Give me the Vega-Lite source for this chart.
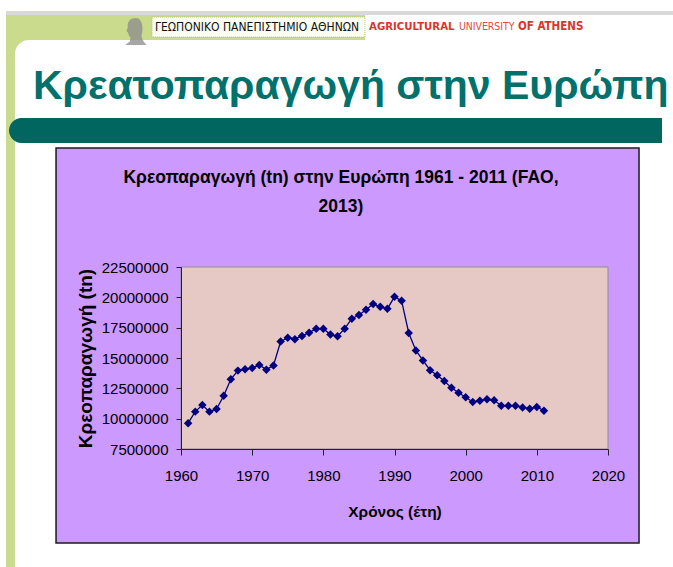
{
  "$schema": "https://vega.github.io/schema/vega-lite/v6.json",
  "width": 427,
  "height": 182,
  "autosize": {"type": "none"},
  "padding": {"left": 181, "top": 267, "right": 65, "bottom": 118},
  "background": "white",
  "config": {"view": {"stroke": null}, "font": "Liberation Sans"},
  "resolve": {"axis": {"x": "independent", "y": "independent"}},
  "data": {"values": [
    {"year": 1961, "value": 9630000}, {"year": 1962, "value": 10580000}, {"year": 1963, "value": 11120000},
    {"year": 1964, "value": 10580000}, {"year": 1965, "value": 10800000}, {"year": 1966, "value": 11890000},
    {"year": 1967, "value": 13250000}, {"year": 1968, "value": 13960000}, {"year": 1969, "value": 14070000},
    {"year": 1970, "value": 14180000}, {"year": 1971, "value": 14420000}, {"year": 1972, "value": 14040000},
    {"year": 1973, "value": 14390000}, {"year": 1974, "value": 16360000}, {"year": 1975, "value": 16660000},
    {"year": 1976, "value": 16550000}, {"year": 1977, "value": 16820000}, {"year": 1978, "value": 17090000},
    {"year": 1979, "value": 17420000}, {"year": 1980, "value": 17420000}, {"year": 1981, "value": 16930000},
    {"year": 1982, "value": 16790000}, {"year": 1983, "value": 17420000}, {"year": 1984, "value": 18240000},
    {"year": 1985, "value": 18540000}, {"year": 1986, "value": 18970000}, {"year": 1987, "value": 19460000},
    {"year": 1988, "value": 19220000}, {"year": 1989, "value": 19050000}, {"year": 1990, "value": 20050000},
    {"year": 1991, "value": 19710000}, {"year": 1992, "value": 17060000}, {"year": 1993, "value": 15620000},
    {"year": 1994, "value": 14800000}, {"year": 1995, "value": 13990000}, {"year": 1996, "value": 13580000},
    {"year": 1997, "value": 13110000}, {"year": 1998, "value": 12540000}, {"year": 1999, "value": 12130000},
    {"year": 2000, "value": 11760000}, {"year": 2001, "value": 11370000}, {"year": 2002, "value": 11480000},
    {"year": 2003, "value": 11610000}, {"year": 2004, "value": 11510000}, {"year": 2005, "value": 11070000},
    {"year": 2006, "value": 11070000}, {"year": 2007, "value": 11070000}, {"year": 2008, "value": 10930000},
    {"year": 2009, "value": 10820000}, {"year": 2010, "value": 10960000}, {"year": 2011, "value": 10660000}
  ]},
  "layer": [
    {
      "data": {"values": [{}]},
      "mark": {"type": "rect", "color": "#CBDB8E"},
      "encoding": {
        "x": {"datum": 1935.41, "type": "quantitative", "scale": {"domain": [1960, 2020], "nice": false, "zero": false}, "axis": null},
        "x2": {"datum": 1985.85},
        "y": {"datum": 43269238, "type": "quantitative", "scale": {"domain": [7500000, 22500000], "nice": false, "zero": false}, "axis": null},
        "y2": {"datum": 39560446}
      }
    },
    {
      "data": {"values": [{}]},
      "mark": {"type": "rect", "color": "#CBDB8E"},
      "encoding": {
        "x": {"datum": 1935.41, "type": "quantitative", "scale": {"domain": [1960, 2020], "nice": false, "zero": false}, "axis": null},
        "x2": {"datum": 1936.67},
        "y": {"datum": 43269238, "type": "quantitative", "scale": {"domain": [7500000, 22500000], "nice": false, "zero": false}, "axis": null},
        "y2": {"datum": -2225277}
      }
    },
    {
      "data": {"values": [{}]},
      "mark": {"type": "rect", "color": "white", "cornerRadius": 14},
      "encoding": {
        "x": {"datum": 1936.67, "type": "quantitative", "scale": {"domain": [1960, 2020], "nice": false, "zero": false}, "axis": null},
        "x2": {"datum": 2032},
        "y": {"datum": 41208798, "type": "quantitative", "scale": {"domain": [7500000, 22500000], "nice": false, "zero": false}, "axis": null},
        "y2": {"datum": -6593410}
      }
    },
    {
      "data": {"values": [{}]},
      "mark": {"type": "rect", "color": "#D9D9D9"},
      "encoding": {
        "x": {"datum": 1935.41, "type": "quantitative", "scale": {"domain": [1960, 2020], "nice": false, "zero": false}, "axis": null},
        "x2": {"datum": 2029.13},
        "y": {"datum": 43598909, "type": "quantitative", "scale": {"domain": [7500000, 22500000], "nice": false, "zero": false}, "axis": null},
        "y2": {"datum": 43269238}
      }
    },
    {
      "data": {"values": [{}]},
      "mark": {"type": "point", "shape": "M0.1,-1 C-0.35,-1 -0.55,-0.7 -0.5,-0.3 C-0.55,-0.15 -0.65,0 -0.5,0.05 C-0.45,0.2 -0.4,0.35 -0.3,0.45 L-0.35,0.75 L-0.7,1 L0.9,1 C0.7,0.8 0.55,0.6 0.5,0.3 C0.65,0 0.6,-0.6 0.45,-0.8 C0.35,-0.95 0.25,-1 0.1,-1 Z", "size": 729, "filled": true, "color": "#8A8A8A", "opacity": 0.75},
      "encoding": {
        "x": {"datum": 1953.47, "type": "quantitative", "scale": {"domain": [1960, 2020], "nice": false, "zero": false}, "axis": null},
        "y": {"datum": 41909348, "type": "quantitative", "scale": {"domain": [7500000, 22500000], "nice": false, "zero": false}, "axis": null}
      }
    },
    {
      "data": {"values": [{}]},
      "mark": {"type": "rect", "fill": "#FBFCF2", "stroke": "#B3C96C", "strokeWidth": 1, "strokeDash": [1, 1]},
      "encoding": {
        "x": {"datum": 1955.93, "type": "quantitative", "scale": {"domain": [1960, 2020], "nice": false, "zero": false}, "axis": null},
        "x2": {"datum": 1985.85},
        "y": {"datum": 43104403, "type": "quantitative", "scale": {"domain": [7500000, 22500000], "nice": false, "zero": false}, "axis": null},
        "y2": {"datum": 41456051}
      }
    },
    {
      "data": {"values": [{}]},
      "mark": {"type": "text", "text": "ΓΕΩΠΟΝΙΚΟ ΠΑΝΕΠΙΣΤΗΜΙΟ ΑΘΗΝΩΝ", "font": "DejaVu Sans Condensed", "fontSize": 12, "color": "#111111", "align": "left", "baseline": "middle"},
      "encoding": {
        "x": {"datum": 1956.35, "type": "quantitative", "scale": {"domain": [1960, 2020], "nice": false, "zero": false}, "axis": null},
        "y": {"datum": 42280227, "type": "quantitative", "scale": {"domain": [7500000, 22500000], "nice": false, "zero": false}, "axis": null}
      }
    },
    {
      "data": {"values": [{}]},
      "mark": {"type": "text", "text": "AGRICULTURAL", "font": "DejaVu Sans Condensed", "fontSize": 11.3, "fontWeight": "bold", "color": "#D9362B", "align": "left", "baseline": "middle"},
      "encoding": {
        "x": {"datum": 1986.42, "type": "quantitative", "scale": {"domain": [1960, 2020], "nice": false, "zero": false}, "axis": null},
        "y": {"datum": 42280227, "type": "quantitative", "scale": {"domain": [7500000, 22500000], "nice": false, "zero": false}, "axis": null}
      }
    },
    {
      "data": {"values": [{}]},
      "mark": {"type": "text", "text": "UNIVERSITY", "font": "DejaVu Sans Condensed", "fontSize": 10.4, "color": "#DE4A3C", "align": "left", "baseline": "middle"},
      "encoding": {
        "x": {"datum": 1999.06, "type": "quantitative", "scale": {"domain": [1960, 2020], "nice": false, "zero": false}, "axis": null},
        "y": {"datum": 42280227, "type": "quantitative", "scale": {"domain": [7500000, 22500000], "nice": false, "zero": false}, "axis": null}
      }
    },
    {
      "data": {"values": [{}]},
      "mark": {"type": "text", "text": "OF ATHENS", "font": "DejaVu Sans Condensed", "fontSize": 11.5, "fontWeight": "bold", "color": "#D9362B", "align": "left", "baseline": "middle"},
      "encoding": {
        "x": {"datum": 2007.35, "type": "quantitative", "scale": {"domain": [1960, 2020], "nice": false, "zero": false}, "axis": null},
        "y": {"datum": 42280227, "type": "quantitative", "scale": {"domain": [7500000, 22500000], "nice": false, "zero": false}, "axis": null}
      }
    },
    {
      "data": {"values": [{}]},
      "mark": {"type": "text", "text": "Κρεατοπαραγωγή στην Ευρώπη", "font": "Liberation Sans", "fontSize": 41, "fontWeight": "bold", "color": "#02716B", "align": "left", "baseline": "alphabetic"},
      "encoding": {
        "x": {"datum": 1939.2, "type": "quantitative", "scale": {"domain": [1960, 2020], "nice": false, "zero": false}, "axis": null},
        "y": {"datum": 36346160, "type": "quantitative", "scale": {"domain": [7500000, 22500000], "nice": false, "zero": false}, "axis": null}
      }
    },
    {
      "data": {"values": [{}]},
      "mark": {"type": "rect", "color": "#00665F", "cornerRadiusTopLeft": 12.5, "cornerRadiusBottomLeft": 12.5},
      "encoding": {
        "x": {"datum": 1935.83, "type": "quantitative", "scale": {"domain": [1960, 2020], "nice": false, "zero": false}, "axis": null},
        "x2": {"datum": 2027.59},
        "y": {"datum": 34780226, "type": "quantitative", "scale": {"domain": [7500000, 22500000], "nice": false, "zero": false}, "axis": null},
        "y2": {"datum": 32719786}
      }
    },
    {
      "data": {"values": [{}]},
      "mark": {"type": "rect", "fill": "#CC99FF", "stroke": "#1C1C1C", "strokeWidth": 1.5},
      "encoding": {
        "x": {"datum": 1942.44, "type": "quantitative", "scale": {"domain": [1960, 2020], "nice": false, "zero": false}, "axis": null},
        "x2": {"datum": 2024.36},
        "y": {"datum": 32307698, "type": "quantitative", "scale": {"domain": [7500000, 22500000], "nice": false, "zero": false}, "axis": null},
        "y2": {"datum": -247254}
      }
    },
    {
      "data": {"values": [{}]},
      "mark": {"type": "text", "text": ["Κρεοπαραγωγή  (tn) στην Ευρώπη 1961 - 2011 (FAO,", "2013)"], "font": "Liberation Sans", "fontSize": 17.5, "fontWeight": "bold", "lineHeight": 29, "color": "#000000", "align": "center", "baseline": "middle"},
      "encoding": {
        "x": {"datum": 1982.48, "type": "quantitative", "scale": {"domain": [1960, 2020], "nice": false, "zero": false}, "axis": null},
        "y": {"datum": 29835170, "type": "quantitative", "scale": {"domain": [7500000, 22500000], "nice": false, "zero": false}, "axis": null}
      }
    },
    {
      "data": {"values": [{}]},
      "mark": {"type": "rect", "fill": "#E6C8C5", "stroke": "#8E8E8E", "strokeWidth": 1},
      "encoding": {
        "x": {"datum": 1960, "type": "quantitative", "scale": {"domain": [1960, 2020], "nice": false, "zero": false}, "axis": null},
        "x2": {"datum": 2020},
        "y": {"datum": 22500000, "type": "quantitative", "scale": {"domain": [7500000, 22500000], "nice": false, "zero": false}, "axis": null},
        "y2": {"datum": 7500000}
      }
    },
    {
      "mark": {"type": "line", "color": "#000080", "strokeWidth": 1.3},
      "encoding": {
        "x": {"field": "year", "type": "quantitative", "scale": {"domain": [1960, 2020], "nice": false, "zero": false},
          "axis": {"values": [1960, 1970, 1980, 1990, 2000, 2010, 2020], "format": "d", "title": "Χρόνος (έτη)", "grid": false, "zindex": 1,
            "domainColor": "#222222", "tickColor": "#222222", "tickSize": 6, "labelFont": "Liberation Sans", "labelFontSize": 15, "labelColor": "#000000",
            "labelPadding": 13, "labelFlush": false, "labelOverlap": false, "labelBound": false, "titleFont": "Liberation Sans", "titleFontSize": 15.5, "titleFontWeight": "bold", "titleColor": "#000000", "titlePadding": 21}},
        "y": {"field": "value", "type": "quantitative", "scale": {"domain": [7500000, 22500000], "nice": false, "zero": false},
          "axis": {"values": [7500000, 10000000, 12500000, 15000000, 17500000, 20000000, 22500000], "format": "d", "title": "Κρεοπαραγωγή (tn)", "grid": false, "zindex": 1,
            "domainColor": "#222222", "tickColor": "#222222", "tickSize": 5, "labelFont": "Liberation Sans", "labelFontSize": 15, "labelColor": "#000000",
            "labelPadding": 8, "labelFlush": false, "labelOverlap": false, "labelBound": false, "titleFont": "Liberation Sans", "titleFontSize": 19, "titleFontWeight": "bold", "titleColor": "#000000", "titlePadding": 6}}
      }
    },
    {
      "mark": {"type": "point", "shape": "diamond", "filled": true, "size": 72, "color": "#000080", "opacity": 1},
      "encoding": {
        "x": {"field": "year", "type": "quantitative", "scale": {"domain": [1960, 2020], "nice": false, "zero": false}, "axis": null},
        "y": {"field": "value", "type": "quantitative", "scale": {"domain": [7500000, 22500000], "nice": false, "zero": false}, "axis": null}
      }
    }
  ]
}
